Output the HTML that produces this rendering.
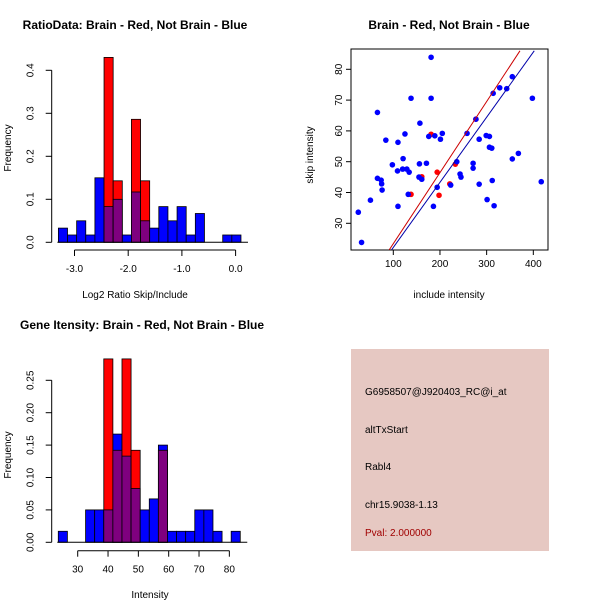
<!DOCTYPE html>
<html><head><meta charset="utf-8"><style>
body{margin:0;background:#fff}
svg{display:block;font-family:"Liberation Sans",sans-serif}
</style></head><body>
<svg id="c" width="600" height="600" viewBox="0 0 600 600" xmlns="http://www.w3.org/2000/svg">
<rect width="600" height="600" fill="#fff"/>
<text x="135" y="29" font-size="12" font-weight="bold" text-anchor="middle">RatioData: Brain - Red, Not Brain - Blue</text>
<text x="449" y="29" font-size="12" font-weight="bold" text-anchor="middle">Brain - Red, Not Brain - Blue</text>
<text x="20" y="329" font-size="12" font-weight="bold">Gene Itensity: Brain - Red, Not Brain - Blue</text>
<text x="135" y="298" font-size="10" text-anchor="middle">Log2 Ratio Skip/Include</text>
<text x="150" y="598" font-size="10" text-anchor="middle">Intensity</text>
<text x="449" y="298" font-size="10" text-anchor="middle">include intensity</text>
<text transform="translate(313,155) rotate(-90)" font-size="10" text-anchor="middle">skip intensity</text>
<text transform="translate(11,148) rotate(-90)" font-size="10" text-anchor="middle">Frequency</text>
<text transform="translate(11,455) rotate(-90)" font-size="10" text-anchor="middle">Frequency</text>
<g>
<rect x="351" y="349" width="198" height="202" fill="#e6c8c2"/>
<text x="365" y="395" font-size="10">G6958507@J920403_RC@i_at</text>
<text x="365" y="433" font-size="10">altTxStart</text>
<text x="365" y="470" font-size="10">Rabl4</text>
<text x="365" y="508" font-size="10">chr15.9038-1.13</text>
<text x="365" y="536" font-size="10" fill="#a00000">Pval: 2.000000</text>
</g>
</svg>
<script>
// Ratio histogram data
const ratioBinStart = -3.3, ratioBinWidth = 0.17;
const ratioBlue = [0.033,0.017,0.05,0.017,0.15,0.083,0.10,0.017,0.117,0.05,0.033,0.083,0.05,0.083,0.017,0.067,0,0,0.017,0.017];
const ratioRed  = [0,0,0,0,0,0.43,0.143,0,0.286,0.143,0,0,0,0,0,0,0,0,0,0];
const ratioXTicks = [-3.0,-2.0,-1.0,0.0];
const ratioXTickLabels = ["-3.0","-2.0","-1.0","0.0"];
const ratioYTicks = [0,0.1,0.2,0.3,0.4];
const ratioYTickLabels = ["0.0","0.1","0.2","0.3","0.4"];
// Intensity histogram data
const intBinStart = 23.6, intBinWidth = 3.0;
const intBlue = [0.017,0,0,0.05,0.05,0.05,0.167,0.133,0.083,0.05,0.067,0.15,0.017,0.017,0.017,0.05,0.05,0.017,0,0.017];
const intRed  = [0,0,0,0,0,0.283,0.142,0.283,0.142,0,0,0.142,0,0,0,0,0,0,0,0];
const intXTicks = [30,40,50,60,70,80];
const intXTickLabels = ["30","40","50","60","70","80"];
const intYTicks = [0,0.05,0.10,0.15,0.20,0.25];
const intYTickLabels = ["0.00","0.05","0.10","0.15","0.20","0.25"];
// Scatter data
const blueX = [25,32,51,66,66,74,75,76,84,98,109,110,110,121,125,120,129,134,132,138,157,156,155,161,171,181,181,176,189,201,205,186,194,223,236,243,245,258,277,284,271,271,284,299,306,306,311,301,312,314,316,328,343,355,355,368,398,417];
const blueY = [33.6,23.8,37.5,66,44.6,44,42.8,40.8,57,49,47,35.5,56.3,51,59,47.6,47.6,46.6,39.4,70.6,62.5,49.3,45,44.3,49.5,83.9,70.6,58.2,58.4,57.3,59.2,35.5,41.7,42.4,50,46,45,59.2,63.8,57.3,47.9,49.5,42.7,58.5,58.2,54.7,54.4,37.7,43.9,72.2,35.7,74,73.7,77.6,50.9,52.7,70.6,43.5];
const redX = [138,161,181,194,198,221,233,277];
const redY = [39.4,45.1,58.9,46.6,39.1,42.8,49.2,63.8];
const redLine = [91.4,21.4,371.4,86];
const blueLine = [96.4,21.4,402,86];
const scXTicks = [100,200,300,400];
const scXTickLabels = ["100","200","300","400"];
const scYTicks = [30,40,50,60,70,80];
const scYTickLabels = ["30","40","50","60","70","80"];

const svg = document.getElementById('c');
const NS = 'http://www.w3.org/2000/svg';
function mk(tag, attrs, parent){const e=document.createElementNS(NS,tag);for(const k in attrs)e.setAttribute(k,attrs[k]);(parent||svg).appendChild(e);return e;}

function histogram(cfg){
  const g = mk('g',{});
  
  
  const X = v => cfg.x0px + (v - cfg.x0v) * cfg.xs;
  const Y = v => cfg.y0px - v * cfg.ys;
  const n = cfg.blue.length;
  for(let i=0;i<n;i++){
    const a = X(cfg.binStart + i*cfg.binW), b = X(cfg.binStart + (i+1)*cfg.binW);
    const r = cfg.red[i], bl = cfg.blue[i];
    if(r>0){
      const e = mk('rect',{x:a,y:Y(r),width:b-a,height:Y(0)-Y(r),fill:'#ff0000',stroke:'#000','stroke-width':0.8},g);
      
      
    }
    if(bl>0){
      const fill = (r>0 && r>=bl) ? '#7f007f' : '#0000ff';
      const e = mk('rect',{x:a,y:Y(bl),width:b-a,height:Y(0)-Y(bl),fill:fill,stroke:'#000','stroke-width':0.8},g);
      
      
      if(r>0 && r<bl){
        const p = mk('rect',{x:a,y:Y(r),width:b-a,height:Y(0)-Y(r),fill:'#7f007f',stroke:'#000','stroke-width':0.8},g);
        
        
      }
    }
  }
  const ya = mk('g',{},g);
  
  
  const yt = cfg.yTicks;
  mk('line',{x1:cfg.yAxisX,x2:cfg.yAxisX,y1:Y(yt[0]),y2:Y(yt[yt.length-1]),stroke:'#000'},ya);
  yt.forEach((t,i)=>{
    mk('line',{x1:cfg.yAxisX-6,x2:cfg.yAxisX,y1:Y(t),y2:Y(t),stroke:'#000'},ya);
    const tx = mk('text',{transform:`translate(${cfg.yAxisX-18},${Y(t)}) rotate(-90)`,'font-size':10,'text-anchor':'middle'},ya);
    tx.textContent = cfg.yLabels[i];
    
    
  });
  const xa = mk('g',{},g);
  
  
  const xt = cfg.xTicks;
  mk('line',{x1:X(xt[0]),x2:X(xt[xt.length-1]),y1:cfg.xAxisY,y2:cfg.xAxisY,stroke:'#000'},xa);
  xt.forEach((t,i)=>{
    mk('line',{x1:X(t),x2:X(t),y1:cfg.xAxisY,y2:cfg.xAxisY+6,stroke:'#000'},xa);
    const tx = mk('text',{x:X(t),y:cfg.xAxisY+22,'font-size':10,'text-anchor':'middle'},xa);
    tx.textContent = cfg.xLabels[i];
    
    
  });
  mk('line',{x1:X(cfg.binStart)-1,x2:X(cfg.binStart+n*cfg.binW)+7,y1:Y(0),y2:Y(0),stroke:'#000'},g);
}

histogram({name:'ratio-histogram',blue:ratioBlue,red:ratioRed,binStart:ratioBinStart,binW:ratioBinWidth,
  x0px:74.5,x0v:-3.0,xs:53.7,y0px:242.3,ys:430,yAxisX:51.7,xAxisY:250,
  xTicks:ratioXTicks,xLabels:ratioXTickLabels,yTicks:ratioYTicks,yLabels:ratioYTickLabels});
histogram({name:'intensity-histogram',blue:intBlue,red:intRed,binStart:intBinStart,binW:intBinWidth,
  x0px:77.7,x0v:30,xs:3.033,y0px:542.3,ys:648,yAxisX:51.7,xAxisY:550.7,
  xTicks:intXTicks,xLabels:intXTickLabels,yTicks:intYTicks,yLabels:intYTickLabels});

(function(){
  const g = mk('g',{});
  
  
  const L=351,R=548,T=49,B=250;
  const X = v => 393.3 + (v-100)*0.4667;
  const Y = v => 223.3 - (v-30)*3.08;
  const cpath = mk('clipPath',{id:'sc'},g);
  mk('rect',{x:L,y:T,width:R-L,height:B-T},cpath);
  const box = mk('rect',{x:L,y:T,width:R-L,height:B-T,fill:'none',stroke:'#000'},g);
  
  
  redX.forEach((v,i)=>{
    const c = mk('circle',{cx:X(v),cy:Y(redY[i]),r:2.8,fill:'#ff0000'},g);
    
    
  });
  blueX.forEach((v,i)=>{
    const c = mk('circle',{cx:X(v),cy:Y(blueY[i]),r:2.8,fill:'#0000ff'},g);
    
    
  });
  const rl = mk('line',{x1:X(redLine[0]),y1:Y(redLine[1]),x2:X(redLine[2]),y2:Y(redLine[3]),stroke:'#cc0000','clip-path':'url(#sc)'},g);
  
  
  const bl = mk('line',{x1:X(blueLine[0]),y1:Y(blueLine[1]),x2:X(blueLine[2]),y2:Y(blueLine[3]),stroke:'#0000aa','clip-path':'url(#sc)'},g);
  
  
  scXTicks.forEach((t,i)=>{
    mk('line',{x1:X(t),x2:X(t),y1:B,y2:B+5,stroke:'#000'},g);
    const tx = mk('text',{x:X(t),y:B+17,'font-size':10,'text-anchor':'middle'},g);
    tx.textContent = scXTickLabels[i];
    
    
  });
  scYTicks.forEach((t,i)=>{
    mk('line',{x1:L-5,x2:L,y1:Y(t),y2:Y(t),stroke:'#000'},g);
    const tx = mk('text',{transform:`translate(${L-9},${Y(t)}) rotate(-90)`,'font-size':10,'text-anchor':'middle'},g);
    tx.textContent = scYTickLabels[i];
    
    
  });
})();
</script>
</body></html>
